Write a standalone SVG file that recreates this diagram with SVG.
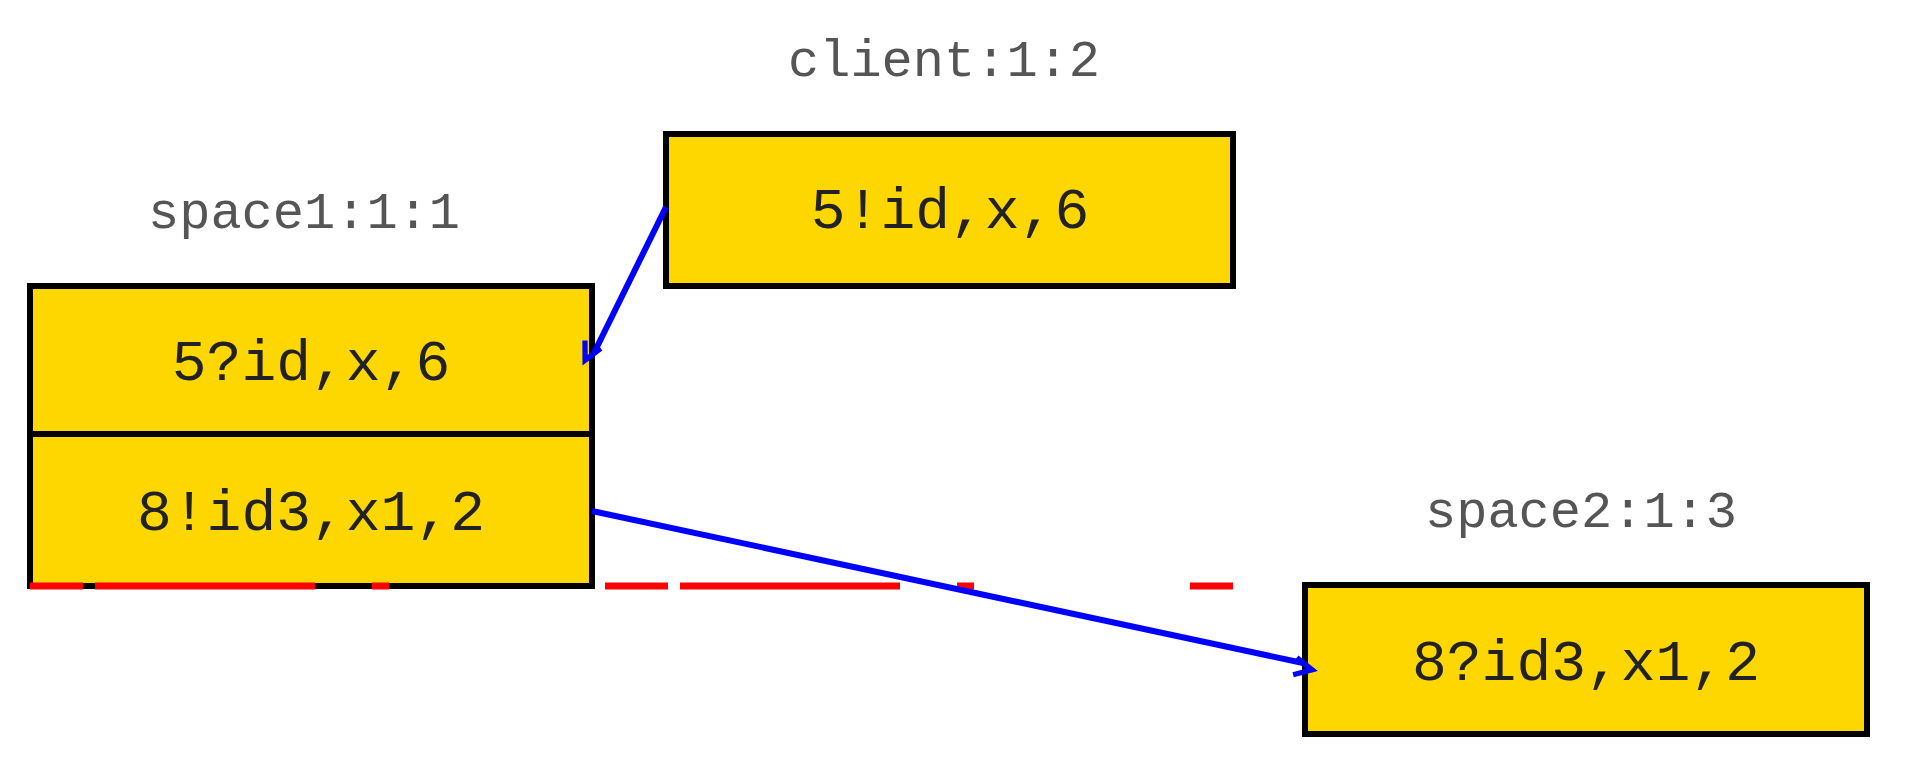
<svg xmlns="http://www.w3.org/2000/svg" width="1906" height="771" viewBox="0 0 1906 771">
<style>
.box{fill:#FFD700;stroke:#000;stroke-width:6}
.t{font-family:"Liberation Mono",monospace;font-size:58px;fill:#222;text-anchor:middle}
.l{font-family:"Liberation Mono",monospace;font-size:52px;fill:#555;text-anchor:middle}
.c{stroke:#0000FF;stroke-width:6;fill:none}
</style>
<defs><marker id="a" viewBox="0 0 20 20" refX="18" refY="10" markerWidth="8" markerHeight="8" markerUnits="userSpaceOnUse" orient="auto" style="overflow:visible"><path d="M0,0 L20,10 L0,20" fill="none" stroke="#0000FF" stroke-width="6" transform="scale(2.2)"/></marker></defs>
<g id="client"><text class="l" x="944" y="76">client:1:2</text><rect class="box" x="666" y="134" width="567" height="152"/><text class="t" x="950" y="228">5!id,x,6</text></g>
<g id="space1"><text class="l" x="304" y="228">space1:1:1</text><rect class="box" x="30" y="286" width="562" height="300"/><line x1="30" y1="434" x2="592" y2="434" stroke="#000" stroke-width="6"/><text class="t" x="311" y="380">5?id,x,6</text><text class="t" x="311" y="530">8!id3,x1,2</text></g>
<g id="space2"><text class="l" x="1581" y="527">space2:1:3</text><rect class="box" x="1305" y="585" width="562" height="149"/><text class="t" x="1586" y="680">8?id3,x1,2</text></g>
<line x1="30" y1="586" x2="1233" y2="586" stroke="#FF0000" stroke-width="7" stroke-dasharray="63 12 220 57 17 216" stroke-dashoffset="10"/>
<g id="connectors">
<line class="c" x1="666" y1="207" x2="594" y2="353" marker-end="url(#a)"/>
<line class="c" x1="592" y1="511" x2="1303" y2="663" marker-end="url(#a)"/>
</g>
</svg>
